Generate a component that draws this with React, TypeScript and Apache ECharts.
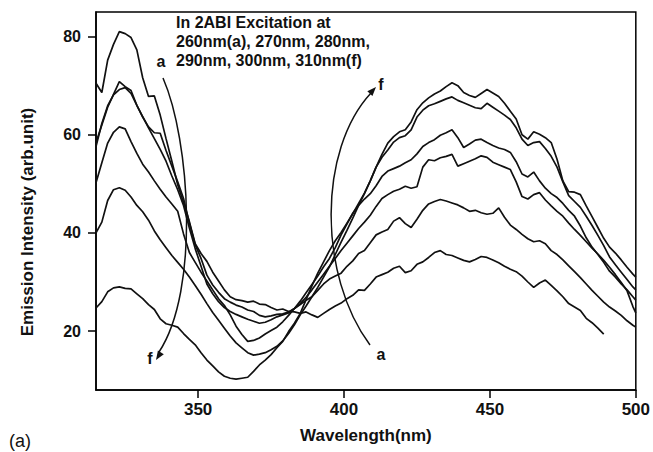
import React, { useEffect, useRef } from "react";
import * as echarts from "echarts";

// Wavelength grid (nm)
const WAVELENGTH = [
  315, 317, 319, 321, 323, 325, 327, 329, 331, 333,
  335, 337, 339, 341, 343, 345, 347, 349, 351, 353,
  355, 357, 359, 361, 363, 365, 367, 369, 371, 373,
  375, 377, 379, 381, 383, 385, 387, 389, 391, 393,
  395, 397, 399, 401, 403, 405, 407, 409, 411, 413,
  415, 417, 419, 421, 423, 425, 427, 429, 431, 433,
  435, 437, 439, 441, 443, 445, 447, 449, 451, 453,
  455, 457, 459, 461, 463, 465, 467, 469, 471, 473,
  475, 477, 479, 481, 483, 485, 487, 489, 491, 493,
  495, 497, 499, 500,
];

// (a) excitation 260 nm
const EXC_260 = [
  70.5, 68.6, 75.2, 78.4, 81.0, 80.6, 79.8, 77.3, 71.6, 67.8,
  67.9, 64.0, 59.2, 54.6, 49.8, 46.2, 42.3, 37.8, 35.8, 34.2,
  32.0, 30.2, 28.4, 27.0, 26.4, 26.2, 25.9, 26.1, 25.5, 25.4,
  24.8, 24.3, 24.5, 24.0, 23.9, 23.6, 23.9, 23.3, 22.8, 23.6,
  24.4, 25.1, 25.7, 26.6, 27.3, 28.4, 28.3, 29.6, 31.0, 31.5,
  32.0, 32.8, 33.2, 31.9, 32.3, 33.6, 34.1, 35.0, 36.0, 36.4,
  35.6, 35.4, 34.9, 34.4, 34.1, 34.6, 35.2, 35.0, 34.5, 33.9,
  33.2, 32.6, 32.1, 31.2, 30.0, 28.9, 29.8, 30.4, 29.3, 28.2,
  27.0, 25.6, 24.9, 24.2, 22.6, 21.7, 20.6, 19.4,
];
// 270 nm
const EXC_270 = [
  58.4, 62.0, 65.6, 68.2, 70.8, 69.8, 69.0, 66.0, 63.6, 61.6,
  60.4, 60.3, 56.8, 53.6, 50.4, 47.0, 42.0, 37.6, 34.8, 31.4,
  29.4, 27.9, 26.6, 25.9, 25.3, 24.9, 24.3, 24.0, 23.2, 22.9,
  23.1, 23.4, 23.5, 23.9, 24.6, 25.4, 26.3, 27.0, 28.3, 29.6,
  30.6, 31.2, 31.8, 33.2, 34.3, 35.8, 36.4, 38.0, 39.6, 40.2,
  40.7, 42.4, 43.1, 41.9, 41.1, 42.8, 44.6, 45.9, 46.4, 46.8,
  46.5, 46.1, 45.7, 45.1, 44.4, 44.6, 44.1, 43.8, 44.0, 45.1,
  43.2, 41.6, 40.7, 39.7, 38.8, 38.2, 38.4, 37.8, 36.4, 35.6,
  34.5, 33.3, 32.1, 30.9, 29.6, 28.3, 27.1, 25.9, 24.9, 24.1,
  23.2, 22.1, 21.2, 20.8,
];
// 280 nm
const EXC_280 = [
  57.6, 62.3, 65.9, 68.1, 69.2, 69.6, 68.4, 66.0, 63.7, 61.4,
  59.2, 57.0, 54.6, 51.6, 48.8, 45.6, 41.0, 36.8, 33.2, 29.6,
  27.6, 26.0, 24.8, 24.0, 23.4, 22.9, 22.4, 22.0, 21.6, 21.8,
  22.3, 22.9, 23.3, 23.7, 24.6, 25.6, 26.9, 28.4, 30.0, 31.6,
  33.2, 34.8, 36.4, 37.9, 39.4, 40.9, 42.2, 43.6, 45.4, 47.0,
  47.8, 48.5, 48.9, 49.5, 49.1, 49.4, 53.4, 54.9, 54.7, 55.3,
  55.6, 56.0, 53.6, 54.1, 54.6, 55.1, 55.7, 55.4, 54.4, 53.9,
  53.4, 52.9, 50.4, 47.4, 46.9, 47.8, 48.2, 46.7, 45.5, 44.4,
  43.4, 42.0, 40.7, 39.5, 38.2, 36.9, 35.7, 34.4, 33.0, 31.5,
  29.9, 28.2, 25.0, 23.7,
];
// 290 nm
const EXC_290 = [
  50.2, 54.3, 58.3, 60.5, 61.6, 61.2, 58.6, 56.2, 54.0, 52.4,
  50.6, 48.9, 47.3, 45.9, 44.4, 39.8, 36.0, 34.0, 32.0, 30.2,
  28.4, 26.6, 25.2, 23.3, 21.0, 19.3, 17.9, 18.1, 18.6, 19.4,
  20.1, 20.8, 21.9, 23.2, 24.6, 26.1, 27.8, 29.5, 31.2, 33.1,
  34.8, 37.0, 39.6, 41.8, 44.0, 45.6, 46.9, 48.0, 49.6, 51.5,
  52.6, 53.1, 53.6, 54.3, 54.9, 56.1, 57.6, 58.4, 59.0, 59.9,
  60.4, 61.0, 59.4, 57.4, 58.1, 58.9, 59.1, 58.4, 57.8, 57.3,
  57.0, 56.4, 54.5, 52.0, 51.4, 52.4, 50.6, 49.1, 48.0, 47.2,
  46.0, 44.6, 43.4, 41.4, 39.0, 37.1, 35.6, 34.0, 32.2, 31.0,
  29.6, 28.4, 27.0, 26.3,
];
// 300 nm
const EXC_300 = [
  40.0, 42.2, 46.6, 48.8, 49.2, 48.7, 47.3, 45.6, 44.3, 42.6,
  40.4, 38.6, 37.0, 35.4, 34.0, 32.6, 31.0, 29.3, 27.5, 25.6,
  23.8, 22.2, 20.6, 19.0, 17.6, 16.6, 15.6, 15.1, 15.3, 15.6,
  16.2, 16.9, 18.0, 19.5, 21.3, 23.3, 25.1, 27.0, 28.9, 31.0,
  33.1, 35.6, 38.1, 40.5, 43.0, 45.6, 48.0, 50.6, 53.4, 55.4,
  56.9, 58.5, 59.4, 59.8, 61.0, 63.6, 65.0, 65.9, 66.3, 66.8,
  67.3, 67.7, 67.0, 66.5, 66.0, 65.5, 65.3, 66.4, 65.6, 64.8,
  64.0, 63.1, 61.4, 59.1, 57.8, 58.4, 58.6, 57.2, 55.6, 53.4,
  50.4, 47.6, 46.4, 45.2, 43.4, 41.5, 39.5, 37.4, 35.1, 33.5,
  32.0, 30.5, 29.0, 28.4,
];
// (f) excitation 310 nm
const EXC_310 = [
  24.7, 26.0, 28.0, 28.8, 29.0, 28.7, 28.6, 27.6, 26.6, 25.4,
  24.4, 22.5, 21.5, 21.2, 20.8, 19.5, 18.3, 17.2, 15.6, 14.1,
  12.9, 11.7, 10.8, 10.4, 10.2, 10.4, 10.6, 11.8, 13.1, 14.1,
  15.2, 16.6, 17.9, 19.9, 21.6, 23.6, 26.4, 29.2, 31.8, 34.1,
  36.4, 38.4, 40.1, 42.0, 43.9, 46.0, 48.1, 50.6, 53.4, 56.0,
  58.3, 59.6, 60.6, 61.0, 62.6, 65.1, 66.5, 67.5, 68.3, 68.9,
  69.8, 70.6, 70.0, 68.6, 68.0, 67.6, 68.4, 69.2, 68.5, 67.8,
  66.4, 64.8, 63.2, 60.0, 59.1, 60.6, 60.1, 59.4, 58.4, 55.0,
  50.6, 48.4, 48.3, 47.8, 45.5, 43.3, 41.1, 38.9, 37.1, 35.9,
  34.5, 33.0, 31.6, 31.0,
];

const SERIES_NAMES = ["260nm", "270nm", "280nm", "290nm", "300nm", "310nm"];
const SERIES_VALUES = [EXC_260, EXC_270, EXC_280, EXC_290, EXC_300, EXC_310];

const X_TICKS = [350, 400, 450, 500];
const Y_TICKS = [20, 40, 60, 80];

const FONT = "'Liberation Sans', Arial, Helvetica, sans-serif";

export default function App() {
  const ref = useRef<HTMLDivElement>(null);

  useEffect(() => {
    document.body.style.margin = "0";
    if (!ref.current) return;
    const chart = echarts.init(ref.current, undefined, { renderer: "svg" });

    const series = SERIES_VALUES.map((vals, k) => ({
      name: SERIES_NAMES[k],
      type: "line",
      data: vals.map((v, i) => [WAVELENGTH[i], v]),
      showSymbol: false,
      symbol: "none",
      smooth: false,
      lineStyle: { color: "#111", width: 1.7 },
      emphasis: { disabled: true },
      silent: true,
    }));

    const arrowHead = (tip: number[], dir: number[], len = 9, half = 3.5) => {
      const n = Math.hypot(dir[0], dir[1]);
      const d = [dir[0] / n, dir[1] / n];
      const p = [-d[1], d[0]];
      const b = [tip[0] - d[0] * len, tip[1] - d[1] * len];
      return [
        tip,
        [b[0] + p[0] * half, b[1] + p[1] * half],
        [b[0] - p[0] * half, b[1] - p[1] * half],
      ];
    };

    chart.setOption({
      animation: false,
      grid: {
        left: 96,
        right: 16,
        top: 12,
        bottom: 62,
        show: true,
        borderColor: "#000",
        borderWidth: 1.5,
        backgroundColor: "transparent",
      },
      xAxis: {
        type: "value",
        min: 315,
        max: 500,
        name: "Wavelength(nm)",
        nameLocation: "middle",
        nameGap: 37,
        nameTextStyle: { fontFamily: FONT, fontSize: 17, fontWeight: "bold", color: "#111" },
        axisLine: { show: true, onZero: false, lineStyle: { color: "#000", width: 1.5 } },
        axisTick: { show: true, length: 8, lineStyle: { color: "#000", width: 1.5 }, customValues: X_TICKS },
        axisLabel: {
          customValues: X_TICKS,
          fontFamily: FONT,
          fontSize: 17,
          fontWeight: "bold",
          color: "#111",
          margin: 11,
        },
        splitLine: { show: false },
      },
      yAxis: {
        type: "value",
        min: 8,
        max: 85,
        axisLine: { show: true, onZero: false, lineStyle: { color: "#000", width: 1.5 } },
        axisTick: { show: true, length: 8, lineStyle: { color: "#000", width: 1.5 }, customValues: Y_TICKS },
        axisLabel: {
          customValues: Y_TICKS,
          fontFamily: FONT,
          fontSize: 16,
          fontWeight: "bold",
          color: "#111",
          margin: 15,
        },
        splitLine: { show: false },
      },
      series,
      graphic: [
        {
          type: "text",
          x: 27,
          y: 222,
          rotation: Math.PI / 2,
          style: {
            text: "Emission Intensity (arb.unit)",
            fontFamily: FONT,
            fontSize: 17,
            fontWeight: "bold",
            fill: "#111",
            align: "center",
            verticalAlign: "middle",
          },
        },
        {
          type: "text",
          x: 176,
          y: 13,
          style: {
            text: "In 2ABI Excitation at\n260nm(a), 270nm, 280nm,\n290nm, 300nm, 310nm(f)",
            fontFamily: FONT,
            fontSize: 16,
            fontWeight: "bold",
            lineHeight: 19,
            fill: "#111",
            align: "left",
            verticalAlign: "top",
          },
        },
        {
          type: "text",
          x: 161,
          y: 61,
          style: { text: "a", fontFamily: FONT, fontSize: 16, fontWeight: "bold", fill: "#111", align: "center", verticalAlign: "middle" },
        },
        {
          type: "text",
          x: 150,
          y: 358,
          style: { text: "f", fontFamily: FONT, fontSize: 16, fontWeight: "bold", fill: "#111", align: "center", verticalAlign: "middle" },
        },
        {
          type: "text",
          x: 381,
          y: 354,
          style: { text: "a", fontFamily: FONT, fontSize: 16, fontWeight: "bold", fill: "#111", align: "center", verticalAlign: "middle" },
        },
        {
          type: "text",
          x: 381,
          y: 84,
          style: { text: "f", fontFamily: FONT, fontSize: 16, fontWeight: "bold", fill: "#111", align: "center", verticalAlign: "middle" },
        },
        {
          type: "text",
          x: 20,
          y: 441,
          style: { text: "(a)", fontFamily: FONT, fontSize: 18, fontWeight: "normal", fill: "#111", align: "center", verticalAlign: "middle" },
        },
        {
          type: "bezierCurve",
          shape: { x1: 163, y1: 78, cpx1: 190, cpy1: 140, cpx2: 200, cpy2: 290, x2: 159, y2: 352 },
          style: { stroke: "#111", lineWidth: 1.5, fill: null },
        },
        {
          type: "polygon",
          shape: { points: arrowHead([156, 360], [-43, 67]) },
          style: { fill: "#111" },
        },
        {
          type: "bezierCurve",
          shape: { x1: 370, y1: 345, cpx1: 318, cpy1: 275, cpx2: 318, cpy2: 150, x2: 371, y2: 93 },
          style: { stroke: "#111", lineWidth: 1.5, fill: null },
        },
        {
          type: "polygon",
          shape: { points: arrowHead([376, 87], [56, -60]) },
          style: { fill: "#111" },
        },
      ],
    });

    return () => chart.dispose();
  }, []);

  return (
    <div
      ref={ref}
      style={{ position: "absolute", left: 0, top: 0, width: 653, height: 452, background: "#fff" }}
    />
  );
}
